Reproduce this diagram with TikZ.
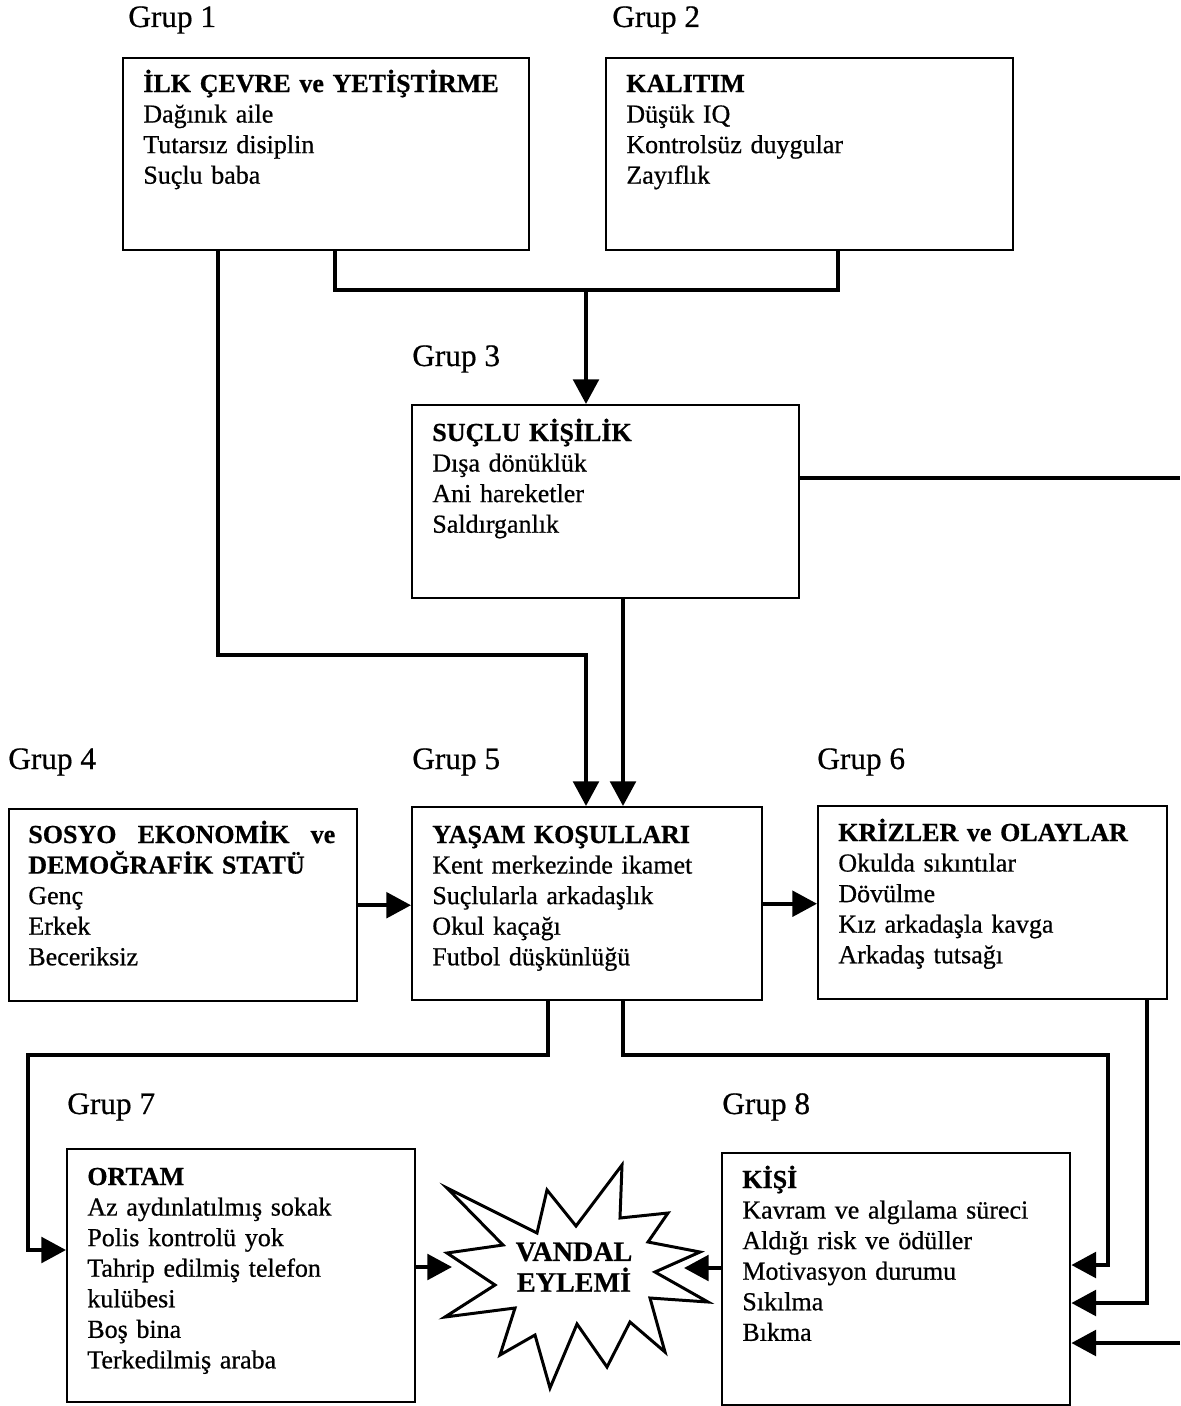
\documentclass[tikz,border=0pt]{standalone}
\usepackage{fontspec}
\setmainfont{Liberation Serif}[FakeBold=0.6]
\usepackage{tikz}
\usetikzlibrary{arrows.meta,calc,
                positioning}

\begin{document}
\begin{tikzpicture}[x=0.02cm, y=-0.02cm]
  \tikzset{box/.style = {shape = rectangle, draw = black, line width = 1.4pt, anchor = north west, inner sep = 0pt}}
  \tikzset{txt/.style = {anchor = base west, inner sep = 0pt, align = left, text width = 7.6cm, font = \fontsize{14.8}{17.4}\selectfont}}
  \tikzset{grp/.style = {anchor = base west, inner sep = 0pt, font = \fontsize{17.8}{20}\selectfont}}
  \tikzset{conn/.style = {line width = 2.2pt}}
  \tikzset{arr/.style = {conn, -{Triangle[length = 14pt, width = 14.5pt]}}}
  \tikzset{burst/.style = {draw = black, fill = white, line width = 1.7pt, line join = miter}}

  \useasboundingbox (0,0) rectangle (1180,1406);

  % groups 1 and 2
  \node[grp] (G1) at (128,27) {Grup 1};
  \node[box, minimum width = 8.12cm, minimum height = 3.84cm] (Ilk) at (122,57) {};
  \node[txt] (IlkT) at ($(Ilk.north west)+(21,35)$) {\textbf{İLK ÇEVRE ve YETİŞTİRME}\\Dağınık aile\\Tutarsız disiplin\\Suçlu baba};

  \node[grp] (G2) at (612,27) {Grup 2};
  \node[box, minimum width = 8.14cm, minimum height = 3.84cm] (Kalitim) at (605,57) {};
  \node[txt] (KalitimT) at ($(Kalitim.north west)+(21,35)$) {\textbf{KALITIM}\\Düşük IQ\\Kontrolsüz duygular\\Zayıflık};

  % group 3
  \node[grp] (G3) at (412,366) {Grup 3};
  \node[box, minimum width = 7.74cm, minimum height = 3.86cm] (Suclu) at (411,404) {};
  \node[txt] (SucluT) at ($(Suclu.north west)+(21,37)$) {\textbf{SUÇLU KİŞİLİK}\\Dışa dönüklük\\Ani hareketler\\Saldırganlık};

  % groups 4, 5 and 6
  \node[grp] (G4) at (8,769) {Grup 4};
  \node[box, minimum width = 6.96cm, minimum height = 3.84cm] (Sosyo) at (8,808) {};
  \node[txt, text width = 6.14cm] (SosyoT) at ($(Sosyo.north west)+(20,35)$) {\textbf{SOSYO\hfill EKONOMİK\hfill ve}\\\textbf{DEMOĞRAFİK STATÜ}\\Genç\\Erkek\\Beceriksiz};

  \node[grp] (G5) at (412,769) {Grup 5};
  \node[box, minimum width = 7.0cm, minimum height = 3.86cm] (Yasam) at (411,806) {};
  \node[txt] (YasamT) at ($(Yasam.north west)+(21,37)$) {\textbf{YAŞAM KOŞULLARI}\\Kent merkezinde ikamet\\Suçlularla arkadaşlık\\Okul kaçağı\\Futbol düşkünlüğü};

  \node[grp] (G6) at (817,769) {Grup 6};
  \node[box, minimum width = 6.98cm, minimum height = 3.86cm] (Kriz) at (817,805) {};
  \node[txt] (KrizT) at ($(Kriz.north west)+(21,36)$) {\textbf{KRİZLER ve OLAYLAR}\\Okulda sıkıntılar\\Dövülme\\Kız arkadaşla kavga\\Arkadaş tutsağı};

  % groups 7 and 8
  \node[grp] (G7) at (67,1114) {Grup 7};
  \node[box, minimum width = 6.96cm, minimum height = 5.06cm] (Ortam) at (66,1148) {};
  \node[txt] (OrtamT) at ($(Ortam.north west)+(21,37)$) {\textbf{ORTAM}\\Az aydınlatılmış sokak\\Polis kontrolü yok\\Tahrip edilmiş telefon\\kulübesi\\Boş bina\\Terkedilmiş araba};

  \node[grp] (G8) at (722,1114) {Grup 8};
  \node[box, minimum width = 6.96cm, minimum height = 5.04cm] (Kisi) at (721,1152) {};
  \node[txt] (KisiT) at ($(Kisi.north west)+(21,36)$) {\textbf{KİŞİ}\\Kavram ve algılama süreci\\Aldığı risk ve ödüller\\Motivasyon durumu\\Sıkılma\\Bıkma};

  % the act
  \draw[burst] (447,1188) -- (537,1233) -- (547,1190) -- (576,1226) -- (622,1165) -- (620,1218)
    -- (668,1213) -- (648,1242) -- (700,1252) -- (655,1272) -- (708,1302) -- (650,1298)
    -- (665,1352) -- (630,1322) -- (607,1367) -- (577,1324) -- (550,1388) -- (535,1335)
    -- (500,1355) -- (515,1308) -- (445,1317) -- (495,1285) -- (447,1253) -- (503,1245) -- cycle;
  \node[align = center, inner sep = 0pt, font = \fontsize{16}{17.5}\selectfont\bfseries] (Vandal) at (574,1267) {VANDAL\\EYLEMİ};
  \coordinate (VL) at (452,1267);
  \coordinate (VR) at (684,1268);

  % bends
  \coordinate (B1) at (335,290);
  \coordinate (B2) at (838,290);
  \coordinate (J1) at (586,290);
  \coordinate (B3) at (218,655);
  \coordinate (B4) at (586,655);
  \coordinate (B5) at (623,700);
  \coordinate (E1) at (1180,478);
  \coordinate (C1) at (548,1055);
  \coordinate (C2) at (28,1250);
  \coordinate (C3) at (623,1055);
  \coordinate (C4) at (1108,1265);
  \coordinate (C5) at (1147,1303);
  \coordinate (E2) at (1180,1343);

  % connectors
  \draw[conn] (Ilk.south -| B1) -- (B1) -- (B2) -- (Kalitim.south -| B2);
  \draw[arr] (J1) -- (Suclu.north -| J1);
  \draw[arr] (Ilk.south -| B3) -- (B3) -- (B4) -- (Yasam.north -| B4);
  \draw[arr] (Suclu.south -| B5) -- (Yasam.north -| B5);
  \draw[conn] (Suclu.east |- E1) -- (E1);
  \draw[arr] (Sosyo.east) -- (Yasam.west |- Sosyo.east);
  \draw[arr] (Yasam.east) -- (Kriz.west |- Yasam.east);
  \draw[arr] (Yasam.south -| C1) -- (C1) -| (C2) -- (Ortam.west |- C2);
  \draw[arr] (Yasam.south -| C3) -- (C3) -| (C4) -- (Kisi.east |- C4);
  \draw[arr] (Kriz.south -| C5) -- (C5) -- (Kisi.east |- C5);
  \draw[arr] (E2) -- (Kisi.east |- E2);
  \draw[arr] (Ortam.east |- VL) -- (VL);
  \draw[arr] (Kisi.west |- VR) -- (VR);
\end{tikzpicture}
\end{document}
